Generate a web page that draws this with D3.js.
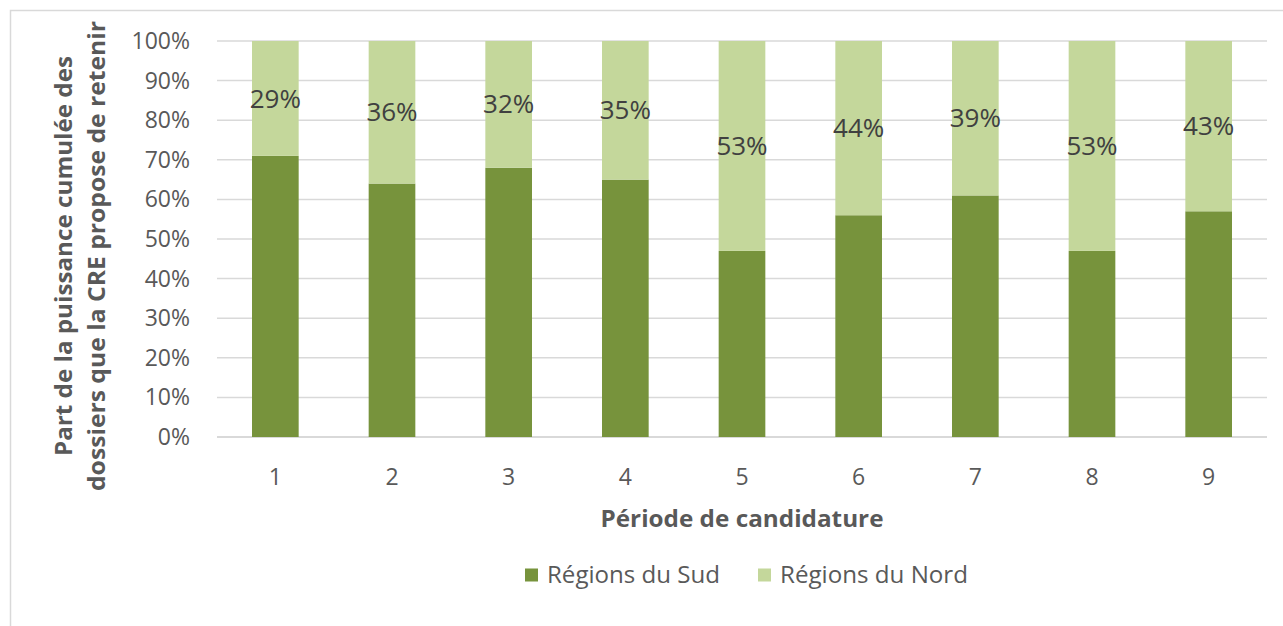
<!DOCTYPE html>
<html lang="fr">
<head>
  <meta charset="UTF-8" />
  <title>Part de la puissance par région</title>
  <script src="https://d3js.org/d3.v7.min.js"></script>
  <style>
    body { margin: 0; background: #fff; }
    svg { display: block; font-family: "Open Sans", "Noto Sans", sans-serif; }
  </style>
</head>
<body>
  <svg id="chart" width="1283" height="626"></svg>
  <script>
    // data
    const periods = ["1", "2", "3", "4", "5", "6", "7", "8", "9"];
    const sud = [71, 64, 68, 65, 47, 56, 61, 47, 57];
    const nord = [29, 36, 32, 35, 53, 44, 39, 53, 43];
    const yTicks = [0, 10, 20, 30, 40, 50, 60, 70, 80, 90, 100];
    const seriesNames = ["Régions du Sud", "Régions du Nord"];
    const colors = ["#77933C", "#C4D79B"];

    const svg = d3.select("#chart");

    // chart frame (only left and top edges visible in the crop)
    svg.append("path")
      .attr("d", "M10.5,626 V10.5 H1283")
      .attr("fill", "none")
      .attr("stroke", "#D9D9D9")
      .attr("stroke-width", 1.5);

    const plot = { left: 217, right: 1267, top: 41, bottom: 437 };

    const x = d3.scaleBand()
      .domain(periods)
      .range([plot.left, plot.right])
      .paddingInner(0.6)
      .paddingOuter(0.3);

    const y = d3.scaleLinear().domain([0, 100]).range([plot.bottom, plot.top]);

    // gridlines
    svg.append("g")
      .selectAll("line")
      .data(yTicks)
      .join("line")
      .attr("x1", plot.left)
      .attr("x2", plot.right)
      .attr("y1", (d) => y(d))
      .attr("y2", (d) => y(d))
      .attr("stroke", "#D9D9D9")
      .attr("stroke-width", (d) => (d === 0 ? 2 : 1.5));

    // y tick labels
    svg.append("g")
      .selectAll("text")
      .data(yTicks)
      .join("text")
      .attr("x", 190)
      .attr("y", (d) => y(d))
      .attr("dy", "0.35em")
      .attr("text-anchor", "end")
      .attr("fill", "#595959")
      .style("font-size", "23px")
      .text((d) => d + "%");

    // stacked bars
    const rows = periods.map((p, i) => ({ period: p, sud: sud[i], nord: nord[i] }));
    const stack = d3.stack().keys(["sud", "nord"])(rows);

    svg.append("g")
      .selectAll("g")
      .data(stack)
      .join("g")
      .attr("fill", (d, i) => colors[i])
      .selectAll("rect")
      .data((d) => d)
      .join("rect")
      .attr("x", (d) => x(d.data.period))
      .attr("width", x.bandwidth())
      .attr("y", (d) => y(d[1]))
      .attr("height", (d) => y(d[0]) - y(d[1]));

    // data labels on the Nord segment
    svg.append("g")
      .selectAll("text")
      .data(stack[1])
      .join("text")
      .attr("x", (d) => x(d.data.period) + x.bandwidth() / 2)
      .attr("y", (d) => y((d[0] + d[1]) / 2))
      .attr("dy", "0.35em")
      .attr("text-anchor", "middle")
      .attr("fill", "#404040")
      .style("font-size", "26px")
      .text((d) => d.data.nord + "%");

    // x tick labels
    svg.append("g")
      .selectAll("text")
      .data(periods)
      .join("text")
      .attr("x", (d) => x(d) + x.bandwidth() / 2)
      .attr("y", 477)
      .attr("dy", "0.35em")
      .attr("text-anchor", "middle")
      .attr("fill", "#595959")
      .style("font-size", "23px")
      .text((d) => d);

    // x axis title
    svg.append("text")
      .attr("x", 742)
      .attr("y", 519)
      .attr("dy", "0.35em")
      .attr("text-anchor", "middle")
      .attr("fill", "#595959")
      .style("font-size", "23px")
      .style("font-weight", "bold")
      .attr("textLength", 283)
      .attr("lengthAdjust", "spacingAndGlyphs")
      .text("Période de candidature");

    // y axis title, two lines
    const yTitle = [
      { text: "Part de la puissance cumulée des", x: 64, len: 400 },
      { text: "dossiers que la CRE propose de retenir", x: 97, len: 470 }
    ];
    svg.append("g")
      .selectAll("text")
      .data(yTitle)
      .join("text")
      .attr("transform", (d) => `translate(${d.x},256) rotate(-90)`)
      .attr("dy", "0.35em")
      .attr("text-anchor", "middle")
      .attr("fill", "#595959")
      .style("font-size", "23px")
      .style("font-weight", "bold")
      .attr("textLength", (d) => d.len)
      .attr("lengthAdjust", "spacingAndGlyphs")
      .text((d) => d.text);

    // legend
    const legendItems = [
      { name: seriesNames[0], color: colors[0], x: 525, len: 173 },
      { name: seriesNames[1], color: colors[1], x: 758, len: 188 }
    ];
    const legend = svg.append("g")
      .selectAll("g")
      .data(legendItems)
      .join("g")
      .attr("transform", (d) => `translate(${d.x},575)`);
    legend.append("rect")
      .attr("x", 0)
      .attr("y", -6.5)
      .attr("width", 13)
      .attr("height", 13)
      .attr("fill", (d) => d.color);
    legend.append("text")
      .attr("x", 22)
      .attr("dy", "0.35em")
      .attr("fill", "#595959")
      .style("font-size", "23px")
      .attr("textLength", (d) => d.len)
      .attr("lengthAdjust", "spacingAndGlyphs")
      .text((d) => d.name);
  </script>
</body>
</html>
